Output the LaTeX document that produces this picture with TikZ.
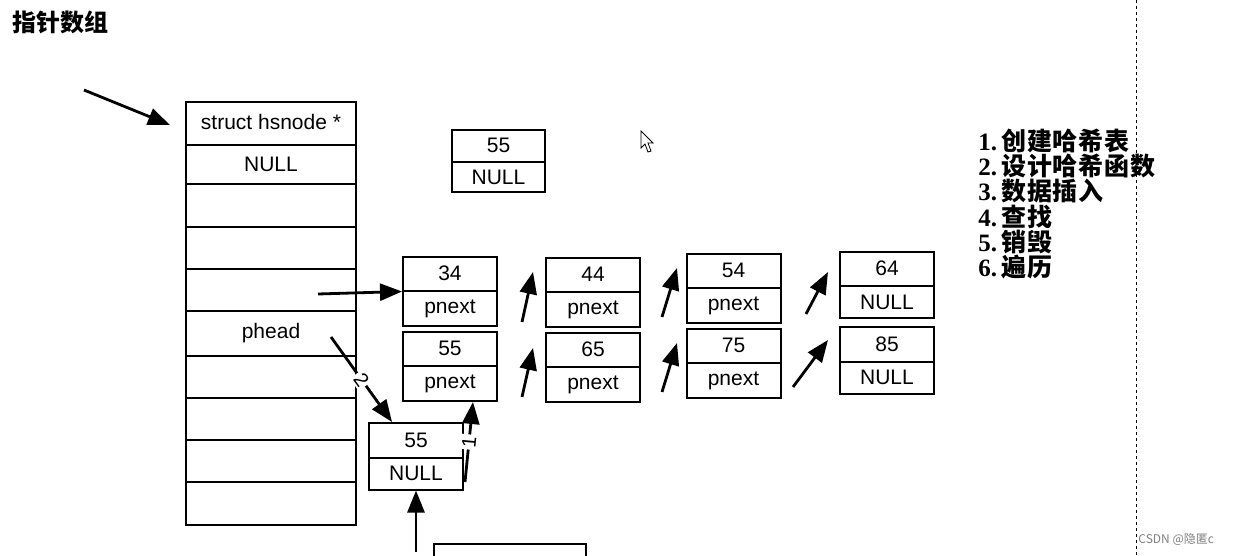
\documentclass[tikz,border=0pt]{standalone}
\usepackage{fontspec}
\setmainfont{Liberation Sans}
\newfontfamily\cjk{Noto Sans CJK SC}
\newfontfamily\numfont{Liberation Serif}
\usetikzlibrary{shapes.multipart,arrows.meta}

\tikzset{
  hsbox/.style={rectangle split, rectangle split parts=2, draw, line width=1pt,
    minimum width=47pt, inner xsep=2pt, inner ysep=3.8pt,
    text height=7.5pt, text depth=1pt,
    rectangle split empty part height=7.5pt, rectangle split empty part depth=1pt,
    font=\fontsize{10.5}{12}\selectfont},
  hsarray/.style={hsbox, rectangle split parts=10, minimum width=85pt, inner ysep=5.8pt},
  link/.style={-{Triangle[length=11pt,width=8.5pt]}, line width=1.4pt},
  steptext/.style={anchor=west, inner sep=0pt, font=\fontsize{12.5}{12.5}\selectfont},
}
\newcommand{\listnode}[4]{%
 \node[hsbox] ({#1}) at ({#2}) {#3\nodepart{two}#4};%
}

\begin{document}
\begin{tikzpicture}[x=0.5pt,y=-0.5pt]
   \useasboundingbox (0,0) rectangle (1233,556);
   \node[steptext, font=\fontsize{12}{12}\cjk\bfseries] (title) at (12,22) {指针数组};
   % pointer array
   \node[hsarray] (arr) at (271,313.5) {struct hsnode *\nodepart{two}NULL\nodepart{three}\nodepart{four}\nodepart{five}%
     \nodepart{six}phead\nodepart{seven}\nodepart{eight}\nodepart{nine}\nodepart{ten}};
   \node[hsbox, minimum width=46.5pt, inner ysep=3.3pt] (btop) at (498.5,161) {55\nodepart{two}NULL};
   \listnode{b34}{450,291.5}{34}{pnext};
   \listnode{b55}{450,366.5}{55}{pnext};
   \listnode{b44}{593,292.5}{44}{pnext};
   \listnode{b65}{593,367.5}{65}{pnext};
   \listnode{b54}{733.5,288.5}{54}{pnext};
   \listnode{b75}{733.5,363.5}{75}{pnext};
   \listnode{b64}{887,285}{64}{NULL};
   \listnode{b85}{887,360.5}{85}{NULL};
   \listnode{bnew}{416,456.5}{55}{NULL};
   \node[draw, line width=1pt, minimum width=76pt, minimum height=20pt, anchor=north] (bnext) at (510,543) {};
   % arrows
   \coordinate (in) at (84,90);
   \coordinate (inend) at (170,125);
   \coordinate (arr5) at (318,294);
   \coordinate (ph) at (331,337);
   \coordinate (phend) at (392,422);
   \coordinate (one) at (465,482);
   \coordinate (oneend) at (473,402);
   \coordinate (up) at (416,552);
   \draw[link] (in) -- (inend);
   \draw[link] (arr5) -- (b34.west);
   \draw[link] (ph) -- node[sloped, fill=white, inner sep=1pt, font=\fontsize{10}{10}\selectfont]{2} (phend);
   \draw[link] (one) -- node[sloped, fill=white, inner sep=1pt, font=\fontsize{10}{10}\selectfont]{1} (oneend);
   \draw[link] (up) -- (bnew.south);
   \foreach \i/\xa/\ya/\xb/\yb in {1/522/322/533/272, 2/662/317/677/268, 3/806/314/828/272,
       4/522/397/533/348, 5/662/392/677/343, 6/793/387/828/340} {
     \coordinate (s\i) at (\xa,\ya);
     \coordinate (t\i) at (\xb,\yb);
     \draw[link] (s\i) -- (t\i);
   }
   % steps
   \foreach \t [count=\i] in {创建哈希表, 设计哈希函数, 数据插入, 查找, 销毁, 遍历}
     \node[steptext] (step\i) at (978,{141+25.2*(\i-1)}) {{\numfont\bfseries\i.}\,{\cjk\bfseries\addfontfeature{LetterSpace=3}\t}};
   % cursor, margin line, mark
   \draw[fill=white, line width=0.4pt] (641,131) -- (641,148) -- (645,144) -- (648,152) -- (651,151) -- (648,143) -- (653,143) -- cycle;
   \draw[dash pattern=on 1.5pt off 1.5pt, line width=0.5pt] (1136,0) -- (1136,556);
   \node[anchor=west, inner sep=0pt, text=gray, font=\fontsize{6}{6}\cjk] (mark) at (1138,540) {CSDN @隐匿c};
\end{tikzpicture}
\end{document}
